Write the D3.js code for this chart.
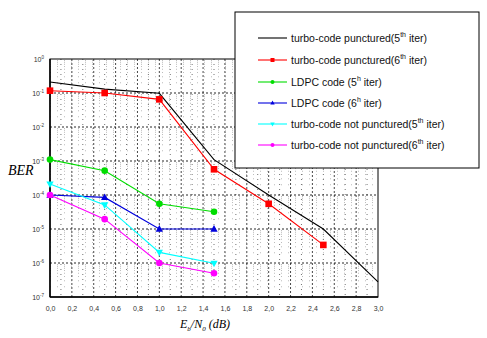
<!DOCTYPE html>
<html><head><meta charset="utf-8">
<script src="https://cdn.jsdelivr.net/npm/d3@7"></script>
<style>body{margin:0;background:#fff}svg{display:block}</style>
</head><body>
<svg id="c" width="487" height="338"></svg>
<script>
const xTicks = [0,0.2,0.4,0.6,0.8,1.0,1.2,1.4,1.6,1.8,2.0,2.2,2.4,2.6,2.8,3.0];
const xTickLabels = ["0,0","0,2","0,4","0,6","0,8","1,0","1,2","1,4","1,6","1,8","2,0","2,2","2,4","2,6","2,8","3,0"];
const yExponents = [0,-1,-2,-3,-4,-5,-6,-7];

const snrBlack = [0,0.5,1.0,1.5,2.0,2.5,3.0];
const turboPunct5 = [0.21,0.13,0.098,1.1e-3,1.0e-4,1.0e-5,2.8e-7];
const snrRed = [0,0.5,1.0,1.5,2.0,2.5];
const turboPunct6 = [0.117,0.1,0.065,5.7e-4,5.5e-5,3.4e-6];
const snrShort = [0,0.5,1.0,1.5];
const ldpc5 = [1.1e-3,5.2e-4,5.5e-5,3.2e-5];
const ldpc6 = [1.0e-4,8.5e-5,1.0e-5,1.0e-5];
const turboNP5 = [2.1e-4,5.1e-5,2.05e-6,9.8e-7];
const turboNP6 = [1.0e-4,1.95e-5,1.0e-6,5.0e-7];

const legendLabels = [
  ["turbo-code punctured(5","th"," iter)"],
  ["turbo-code punctured(6","th"," iter)"],
  ["LDPC  code (5","h"," iter)"],
  ["LDPC  code (6","h"," iter)"],
  ["turbo-code not punctured(5","th"," iter)"],
  ["turbo-code not punctured(6","th"," iter)"]
];

const series = [
  {x:snrBlack, y:turboPunct5, color:"#000000", marker:null},
  {x:snrRed, y:turboPunct6, color:"#ff0000", marker:"square"},
  {x:snrShort, y:ldpc5, color:"#00dd00", marker:"circle"},
  {x:snrShort, y:ldpc6, color:"#0000dd", marker:"triangle"},
  {x:snrShort, y:turboNP5, color:"#00ffff", marker:"tridown"},
  {x:snrShort, y:turboNP6, color:"#ff00ff", marker:"circle"}
];

const svg = d3.select("#c");
const L=50, R=378, T=59, B=297;
const x = d3.scaleLinear().domain([0,3]).range([L,R]);
const y = d3.scaleLog().domain([1e-7,1]).range([B,T]);

// grid
const g = svg.append("g");
const vgrid = d3.range(1,30).map(i=>i/10);
g.selectAll(".vg").data(vgrid).enter().append("line")
  .attr("x1",d=>x(d)).attr("x2",d=>x(d)).attr("y1",T).attr("y2",B)
  .attr("stroke","#333").attr("stroke-width",d=>(Math.round(d*10)%2===0)?0.9:0.7)
  .attr("stroke-dasharray",d=>(Math.round(d*10)%2===0)?"2,2":"1,4");
const hminor=[];
for(let e=-7;e<0;e++){for(let m=2;m<=9;m++){hminor.push(m*Math.pow(10,e));}}
g.selectAll(".hm").data(hminor).enter().append("line")
  .attr("x1",L).attr("x2",R).attr("y1",d=>y(d)).attr("y2",d=>y(d))
  .attr("stroke","#777").attr("stroke-width",0.5).attr("stroke-dasharray","1,6");
g.selectAll(".hM").data(yExponents.slice(1,7)).enter().append("line")
  .attr("x1",L).attr("x2",R).attr("y1",d=>y(Math.pow(10,d))).attr("y2",d=>y(Math.pow(10,d)))
  .attr("stroke","#111").attr("stroke-width",0.9).attr("stroke-dasharray","2,2");

// frame
svg.append("rect").attr("x",L).attr("y",T).attr("width",R-L).attr("height",B-T)
  .attr("fill","none").attr("stroke","#000").attr("stroke-width",1);
svg.append("line").attr("x1",L).attr("x2",R).attr("y1",B).attr("y2",B).attr("stroke","#000").attr("stroke-width",1.5);
svg.append("line").attr("x1",L).attr("x2",L).attr("y1",T).attr("y2",B).attr("stroke","#000").attr("stroke-width",1.5);

// axes
const xAxis = d3.axisBottom(x).tickValues(xTicks).tickSize(0).tickPadding(9)
  .tickFormat((d,i)=>xTickLabels[i]);
const xa = svg.append("g").attr("transform",`translate(0,${B})`).call(xAxis);
xa.select(".domain").remove();
xa.selectAll("text").attr("font-family","Liberation Sans, Arial, sans-serif").attr("font-size","7px").attr("fill","#333");

const yAxis = d3.axisLeft(y).tickValues(yExponents.map(e=>Math.pow(10,e))).tickSize(0).tickPadding(5).tickFormat("");
const ya = svg.append("g").attr("transform",`translate(${L},0)`).call(yAxis);
ya.select(".domain").remove();
ya.selectAll(".tick").each(function(d,i){
  const t = d3.select(this).append("text").attr("x",-6).attr("dy","0.3em").attr("text-anchor","end")
    .attr("font-family","Liberation Sans, Arial, sans-serif").attr("font-size","7px").attr("fill","#333");
  t.append("tspan").text("10");
  t.append("tspan").attr("dy","-0.5em").attr("font-size","4.5px").text(yExponents[i]===0?"0":"-"+(-yExponents[i]));
});

// labels
svg.append("text").attr("x",8).attr("y",175).attr("font-family","Liberation Serif, Times New Roman, serif")
  .attr("font-style","italic").attr("font-size","14px").text("BER");
const xl = svg.append("text").attr("x",180).attr("y",328).attr("font-family","Liberation Serif, Times New Roman, serif")
  .attr("font-style","italic").attr("font-size","12px");
xl.append("tspan").text("E");
xl.append("tspan").attr("font-size","7px").attr("dy","3").text("b");
xl.append("tspan").attr("dy","-3").text("/N");
xl.append("tspan").attr("font-size","7px").attr("dy","3").text("0");
xl.append("tspan").attr("dy","-3").text(" (dB)");

// series
const line = d3.line().x(d=>x(d[0])).y(d=>y(d[1]));
function drawMarker(sel, type, color, cx, cy, s){
  if(!type) return;
  if(type==="square") sel.append("rect").attr("x",cx-s).attr("y",cy-s).attr("width",2*s).attr("height",2*s).attr("fill",color);
  else if(type==="circle") sel.append("circle").attr("cx",cx).attr("cy",cy).attr("r",s).attr("fill",color);
  else if(type==="triangle") sel.append("path").attr("d",`M${cx},${cy-s*1.2}L${cx+s*1.1},${cy+s*0.8}L${cx-s*1.1},${cy+s*0.8}Z`).attr("fill",color);
  else if(type==="tridown") sel.append("path").attr("d",`M${cx},${cy+s*1.2}L${cx+s*1.1},${cy-s*0.8}L${cx-s*1.1},${cy-s*0.8}Z`).attr("fill",color);
}
series.forEach(s=>{
  const pts = s.x.map((v,i)=>[v,s.y[i]]);
  svg.append("path").datum(pts).attr("d",line).attr("fill","none").attr("stroke",s.color).attr("stroke-width",1.1);
  const mg = svg.append("g");
  pts.forEach(p=>drawMarker(mg,s.marker,s.color,x(p[0]),y(p[1]),3.3));
});

// legend
const lg = svg.append("g");
lg.append("rect").attr("x",235).attr("y",12).attr("width",244).attr("height",156)
  .attr("fill","#fff").attr("stroke","#000").attr("stroke-width",1);
const rowY = [38,60,82,103,124,145];
series.forEach((s,i)=>{
  lg.append("line").attr("x1",258).attr("x2",287).attr("y1",rowY[i]).attr("y2",rowY[i]).attr("stroke",s.color).attr("stroke-width",1.1);
  drawMarker(lg,s.marker,s.color,272.5,rowY[i],2);
  const t = lg.append("text").attr("x",291).attr("y",rowY[i]+3.5)
    .attr("font-family","Liberation Sans, Arial, sans-serif").attr("font-size","10.5px").attr("fill","#111");
  t.append("tspan").text(legendLabels[i][0]);
  t.append("tspan").attr("font-size","7px").attr("dy","-5").text(legendLabels[i][1]);
  t.append("tspan").attr("dy","5").text(legendLabels[i][2]);
});
</script>
</body></html>
